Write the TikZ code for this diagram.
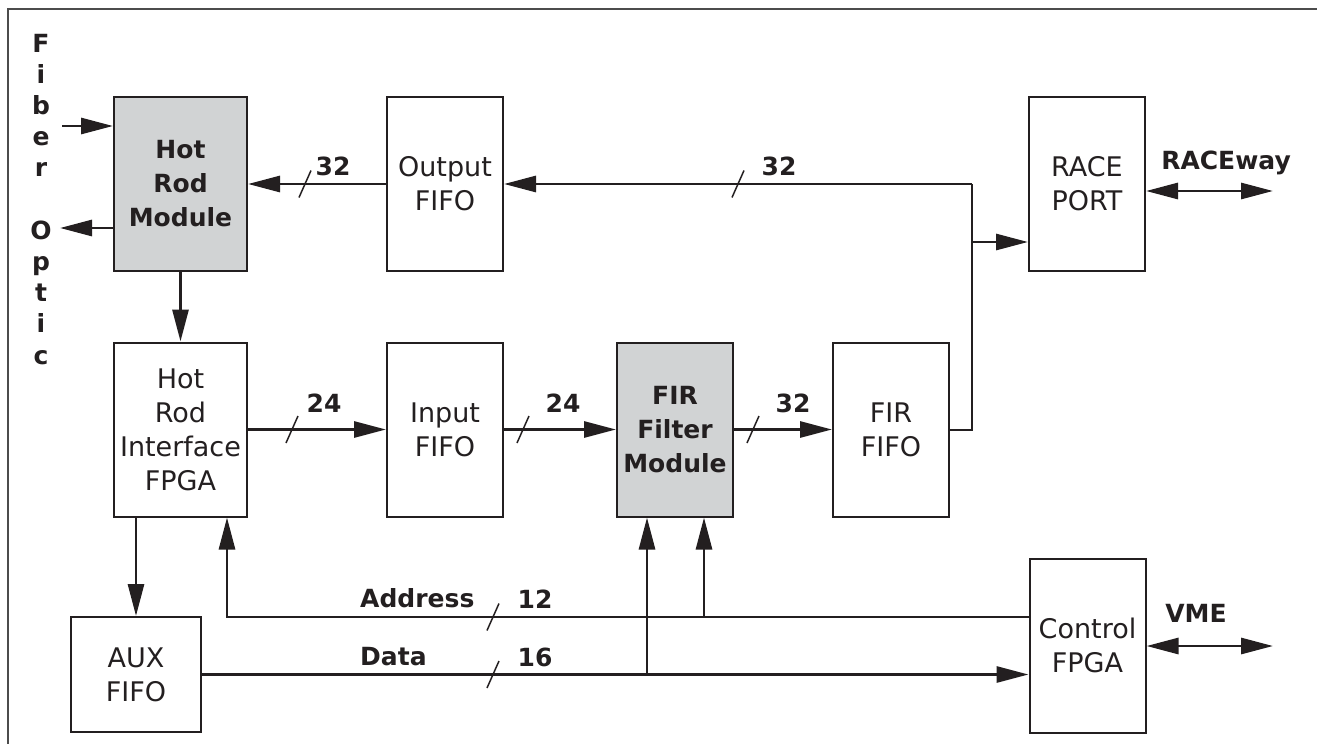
\documentclass[tikz,border=0pt]{standalone}
\usepackage{fontspec}
\setmainfont{DejaVu Sans}
\usetikzlibrary{arrows.meta}
\definecolor{ink}{HTML}{231F20}
\definecolor{modgray}{HTML}{D1D3D4}
\begin{document}
\begin{tikzpicture}[x=1pt,y=-1pt,
  blk/.style={draw=ink,text=ink,line width=2pt,minimum width=116pt,minimum height=174pt,
    inner sep=0pt,align=center,font=\fontsize{27}{34}\selectfont},
  modblk/.style={blk,fill=modgray,font=\fontsize{25}{34}\selectfont\bfseries},
  lbl/.style={text=ink,inner sep=0pt,font=\fontsize{25}{30}\selectfont\bfseries},
  arr/.style={draw=ink,line width=2.9pt,-{Triangle[length=32pt,width=16pt]}},
  dbl/.style={draw=ink,line width=2.9pt,{Triangle[length=32pt,width=16pt]}-{Triangle[length=32pt,width=16pt]}},
  bus/.style={draw=ink,line width=2pt},
  tick/.style={draw=ink,line width=1.5pt}]
\useasboundingbox (0,0) rectangle (1317,744);
\draw[line width=1.3pt,black!70] (8,744) -- (8,9) -- (1317,9);

\node[modblk,minimum width=133pt] (hrm) at (180.5,184) {Hot\\Rod\\Module};
\node[blk] (ofifo) at (445,184) {Output\\FIFO};
\node[blk] (race) at (1087,184) {RACE\\PORT};
\node[blk,minimum width=133pt] (hrif) at (180.5,429.5) {Hot\\Rod\\Interface\\FPGA};
\node[blk] (ififo) at (445,429.5) {Input\\FIFO};
\node[modblk] (fir) at (675,429.5) {FIR\\Filter\\Module};
\node[blk] (firfifo) at (891,429.5) {FIR\\FIFO};
\node[blk,minimum width=130pt,minimum height=115pt] (aux) at (136,674.5) {AUX\\FIFO};
\node[blk] (ctrl) at (1087.5,645.5) {Control\\FPGA};

\foreach \ch [count=\k] in {F,i,b,e,r,,O,p,t,i,c}
  \node[lbl,anchor=base] (fo\k) at (41,52+31.2*\k-31.2) {\ch};
\coordinate (fin) at (62,126);
\coordinate (fout) at (60,228);
\draw[arr] (fin) -- (fin -| hrm.west);
\draw[arr] (fout -| hrm.west) -- (fout);

\draw[arr] (ofifo) -- (hrm);
\draw[arr] (hrm) -- (hrif);
\draw[arr] (hrif) -- (ififo);
\draw[arr] (ififo) -- (fir);
\draw[arr] (fir) -- (firfifo);
\draw[arr] (hrif.south -| aux.north) -- (aux);

\coordinate (jtop) at (972,184);
\coordinate (jrace) at (972,242);
\coordinate (jfir) at (972,429.5);
\draw[arr] (jtop) -- (ofifo);
\draw[bus] (firfifo) -- (jfir) -- (jtop);
\draw[arr] (jrace) -- (jrace -| race.west);
\coordinate (rway) at (1273,191);
\draw[dbl] (rway -| race.east) -- (rway);
\node[lbl] (rwaylbl) at (1226,163) {RACEway};

\coordinate (abus) at (227,617);
\coordinate (abr) at (704,617);
\coordinate (dbr) at (647,674.5);
\draw[arr] (abus -| ctrl.west) -- (abus) -- (abus |- hrif.south);
\draw[arr] (abr) -- (abr |- fir.south);
\draw[arr] (aux) -- (aux -| ctrl.west);
\draw[arr] (dbr) -- (dbr |- fir.south);
\node[lbl,anchor=west] (addrlbl) at (360,598) {Address};
\node[lbl,anchor=west] (datalbl) at (360,657) {Data};
\coordinate (vme) at (1273,646);
\draw[dbl] (vme -| ctrl.east) -- (vme);
\node[lbl] (vmelbl) at (1196,613) {VME};

\foreach \sx/\sy in {305/184,738/184,292/429.5,523/429.5,753/429.5,493/617,493/674.5}
  \draw[tick] (\sx-6,\sy+13.5) -- (\sx+6,\sy-13.5);
\foreach \t/\lx/\ly [count=\k] in {32/333/166,32/779/166,24/324/403,24/563/403,32/793/403,12/535/599,16/535/657}
  \node[lbl] (w\k) at (\lx,\ly) {\t};
\end{tikzpicture}
\end{document}
